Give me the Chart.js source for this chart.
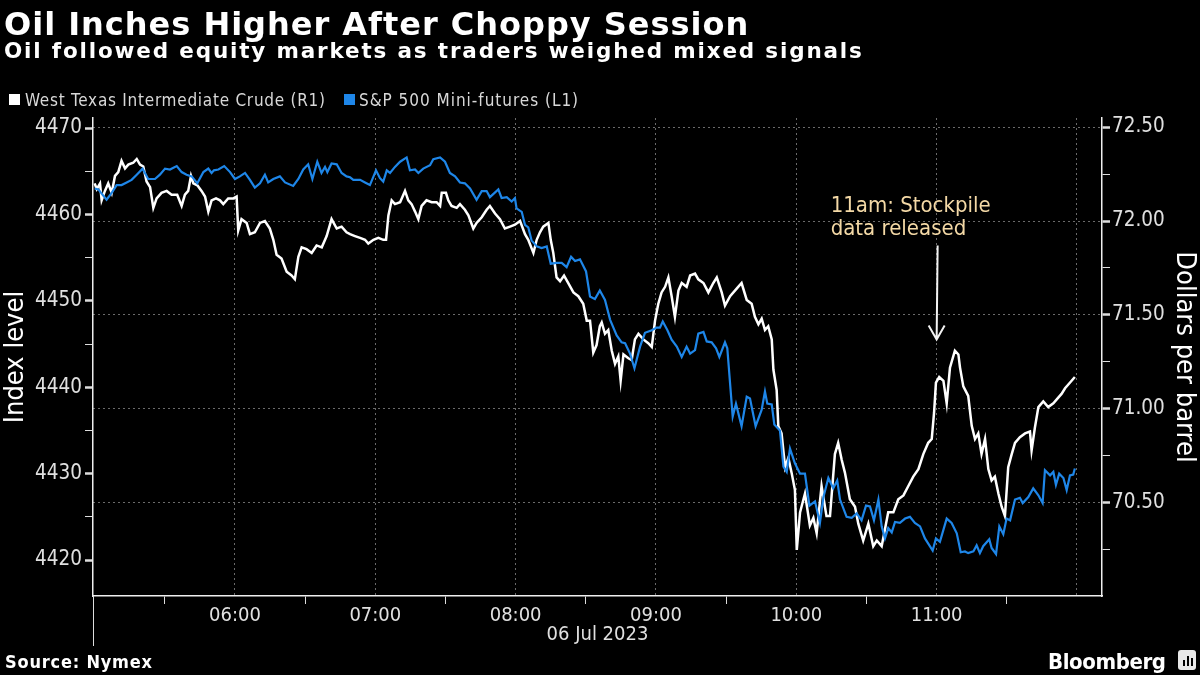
<!DOCTYPE html>
<html>
<head>
<meta charset="utf-8">
<script src="https://cdn.jsdelivr.net/npm/chart.js@4.4.1/dist/chart.umd.min.js"></script>
<style>
  html, body { margin: 0; background: #000; }
  canvas { display: block; }
</style>
</head>
<body>
<canvas id="oilChart" width="1200" height="675"></canvas>
<script>
// minutes after midnight, 06 Jul 2023 (New York time)
const wtiTimes = [300,300.9,302.3,303,304.4,305.8,307.3,308.7,310.1,311.5,313,314.4,316.5,318,319.4,320.8,322.2,323.7,325.1,326.5,
  328.6,330.8,332.9,335.3,337.2,338.6,340,341.2,342.2,343.9,345.7,347.2,348.6,350,351.9,353.6,355,357.1,359.3,360.7,
  361.4,362.8,365,366.4,368.5,370.7,372.8,374.9,376.4,377.8,379.9,382.1,384.2,385.6,387.1,388.5,390.6,392.8,394.9,397.1,
  399.2,401.3,403.5,405.6,407.7,
  409.2,411.3,413.5,415.6,417,419.2,421.3,423.4,424.6,425.6,427,428.4,430.6,432.7,434.1,435.5,437,438.4,439.8,441.9,
  444.1,446.2,447.7,448.4,450.2,451.2,452.6,454.8,456.2,458.3,459.8,461.9,463.3,465.5,467.6,469,471.2,473.3,475.4,477.6,
  479.7,481.9,484,485.4,487.6,489,490.4,491.8,494,495,496.1,497.5,499,500.7,502.5,504.7,506.8,508.9,510.4,511.8,
  513.2,514.6,516,
  516.8,518.2,519.6,521.1,522.5,523.9,524.9,526.1,528.2,529.6,531,532.5,534.6,536.7,538.2,539.6,541,542.4,543.9,545.3,
  546.7,548.1,549.6,551,553.1,554.6,556.7,558.1,560.3,562.4,564.5,566,568.1,569.5,571.7,574.5,576.6,578.8,580.9,582.3,
  583.8,585.2,586.6,588,589.5,590.2,591.6,592.3,593.7,595.2,596.6,598,599.4,600.2,601.6,603.7,605.8,607.3,608.7,610.8,
  612.9,614.4,616.5,617.9,619.4,620.8,622.9,625.1,626.5,628.6,630.8,632.9,634.4,636.5,637.9,639.3,641.5,643.6,645.8,647.9,
  650,652.2,654.3,656.4,657.9,658.9,659.7,661.1,662.9,664.3,665.7,667.8,669.3,670,671.4,673.5,675,676.4,677.8,679.2,
  680.7,682.1,683.5,684.9,686.4,687.8,689.2,690.6,692.1,693.5,695.6,697.8,699.9,700.6,702,703.5,705.6,707.7,709.9,712,
  713.4,714.9,716.3,717.7,719.1];
const wtiPrices = [72.20,72.17,72.20,72.11,72.16,72.20,72.15,72.24,72.26,72.32,72.28,72.30,72.31,72.33,72.30,72.29,72.21,72.18,72.07,72.12,
  72.15,72.16,72.14,72.14,72.08,72.14,72.16,72.24,72.20,72.19,72.16,72.13,72.05,72.11,72.12,72.11,72.09,72.12,72.12,72.13,
  71.95,72.01,71.99,71.93,71.94,71.99,72.00,71.96,71.90,71.82,71.80,71.73,71.71,71.69,71.81,71.86,71.85,71.83,71.87,71.86,
  71.92,72.01,71.96,71.97,71.94,
  71.93,71.92,71.91,71.90,71.88,71.90,71.91,71.90,71.90,72.03,72.11,72.09,72.10,72.16,72.11,72.09,72.05,72.01,72.08,72.11,
  72.10,72.10,72.08,72.15,72.15,72.11,72.08,72.07,72.09,72.06,72.03,71.96,71.99,72.02,72.06,72.08,72.04,72.01,71.96,71.97,
  71.98,72.00,71.93,71.90,71.83,71.90,71.94,71.97,71.99,71.90,71.83,71.70,71.68,71.71,71.67,71.62,71.60,71.56,71.47,71.47,
  71.30,71.34,71.44,
  71.46,71.40,71.42,71.31,71.24,71.28,71.15,71.29,71.27,71.26,71.37,71.40,71.37,71.35,71.33,71.47,71.56,71.62,71.65,71.70,
  71.60,71.49,71.63,71.67,71.65,71.71,71.72,71.69,71.67,71.62,71.67,71.70,71.62,71.55,71.60,71.64,71.67,71.58,71.56,71.49,
  71.45,71.48,71.42,71.44,71.37,71.21,71.10,70.91,70.87,70.69,70.74,70.66,70.57,70.25,70.45,70.55,70.38,70.42,70.34,70.59,
  70.43,70.43,70.76,70.82,70.73,70.66,70.52,70.48,70.39,70.30,70.39,70.27,70.30,70.27,70.36,70.45,70.45,70.52,70.54,70.59,
  70.64,70.68,70.76,70.82,70.84,70.98,71.14,71.17,71.15,71.03,71.22,71.31,71.29,71.22,71.12,71.07,70.91,70.84,70.87,70.76,
  70.84,70.68,70.62,70.64,70.55,70.48,70.43,70.69,70.76,70.82,70.85,70.87,70.88,70.78,70.90,71.01,71.04,71.01,71.03,71.06,
  71.08,71.11,71.13,71.15,71.17];

const spxTimes = [300,301.6,303,305.1,307.3,309.4,311.5,313.7,315.8,318,320.5,322.9,325.8,327.9,330.1,332.2,335.1,337.2,339.3,341.5,
  343.9,346.5,348.6,350,351,352.9,355.4,357.9,360,362.1,364.3,366.4,368.5,370.7,372.8,374.2,376.4,379.2,381.4,384.9,
  387.1,389.2,391.3,393.1,395.2,397,398.5,399.5,401.3,403.5,405.6,407.7,
  409.2,410.6,413.5,415.6,417.7,420.3,422,423.4,424.9,426.3,428.4,430.6,433.4,434.8,437,438.4,440.5,443.4,444.8,447.7,
  449.8,451.9,454.1,456.2,458.3,460.5,463.3,465.5,467.6,469,472.6,474,476.2,478.3,479.7,480.4,482.6,484,485.4,486.8,
  489,491.1,493.3,495,497.5,499.7,501.8,503.7,505.4,507.5,510.1,511.8,513.9,516,
  518.2,520.4,523.2,525.3,526.8,528.9,530.8,533.2,535.3,538.2,540.3,541.7,542.9,544.9,546.7,548.9,551,553.1,554.6,556.7,
  558.1,560.3,561.7,563.8,565.7,567.1,569.5,570.5,572.8,574.2,576.6,578.8,580.2,582.6,585.2,586.6,587.6,589.5,590.6,593,
  594.5,595.9,597.3,599.4,601.6,603.7,605.6,608,610.1,
  611.6,613.7,615.8,617.5,618.7,621.5,623.7,625.8,627.9,629.8,631.5,633.2,635.1,636.5,637.9,639.3,640.8,642.2,644.3,646.5,
  648.6,650.7,652.9,655,658.3,659.7,661.4,664.3,666.4,668.6,670.3,672.1,673.5,675.7,677.1,678.5,679.9,682.5,683.5,685.4,
  686.8,688.5,689.9,691.4,693.5,695.6,696.8,699.2,701.3,703.5,705.3,706.3,708.5,709.9,711,712.4,714.2,715.6,717,718.4,
  719.1];
const spxLevels = [4463.0,4462.9,4462.4,4461.7,4462.5,4463.4,4463.4,4463.7,4464.0,4464.6,4465.3,4464.1,4464.1,4464.6,4465.3,4465.2,4465.6,4464.9,4464.6,4464.4,
  4463.6,4464.9,4465.3,4464.8,4465.1,4465.2,4465.6,4464.9,4464.1,4464.4,4464.8,4464.0,4463.1,4463.6,4464.6,4463.7,4464.1,4464.4,4463.7,4463.3,
  4464.1,4465.2,4465.8,4464.1,4466.1,4464.8,4465.5,4464.9,4465.9,4465.8,4464.8,4464.4,
  4464.3,4464.0,4464.0,4463.7,4463.4,4465.1,4464.2,4463.8,4465.1,4464.8,4465.5,4466.1,4466.6,4465.1,4465.2,4464.8,4465.3,4465.7,4466.4,4466.6,
  4466.1,4464.8,4464.4,4463.7,4463.6,4463.0,4461.7,4462.7,4462.7,4462.0,4462.9,4461.9,4462.0,4461.5,4461.9,4460.7,4460.3,4458.8,4458.5,4457.0,
  4456.3,4456.1,4456.3,4454.3,4454.4,4454.4,4453.9,4455.1,4454.6,4454.8,4453.4,4450.5,4450.2,4451.2,
  4450.1,4447.8,4446.0,4445.2,4445.1,4443.9,4442.2,4444.7,4446.3,4446.6,4446.9,4446.9,4447.6,4446.6,4445.5,4444.7,4443.5,4444.7,4443.9,4444.3,
  4446.2,4446.4,4445.3,4445.2,4444.5,4443.5,4445.2,4444.5,4436.6,4438.1,4435.5,4438.9,4438.7,4435.5,4437.4,4439.5,4438.1,4438.0,4435.7,4435.0,
  4430.8,4430.2,4432.9,4431.2,4430.0,4430.0,4426.3,4426.8,4424.3,
  4427.3,4429.5,4428.3,4429.2,4427.0,4425.0,4424.9,4425.4,4424.6,4426.3,4426.2,4424.6,4427.0,4423.9,4422.5,4423.7,4423.2,4424.4,4424.3,4424.8,
  4425.0,4424.3,4423.9,4422.5,4421.1,4422.5,4422.1,4424.8,4424.3,4423.1,4420.9,4421.0,4420.8,4421.0,4421.7,4420.8,4421.6,4422.4,4421.4,4420.7,
  4423.9,4423.0,4424.8,4424.6,4427.0,4427.2,4426.6,4427.3,4428.3,4427.5,4426.6,4430.4,4429.8,4430.2,4428.7,4430.0,4429.5,4428.1,4429.8,4429.9,
  4430.6];

// axis ticks
const xTickValues = [330,360,390,420,450,480,510,540,570,600,630,660,690,720];
const hourValues  = [360,420,480,540,600,660,720];
const hourLabels  = ['06:00','07:00','08:00','09:00','10:00','11:00',''];
const leftTickValues = [4420,4425,4430,4435,4440,4445,4450,4455,4460,4465,4470];
const leftLabels     = [4420,4430,4440,4450,4460,4470];
const rightTickValues = [70.25,70.5,70.75,71,71.25,71.5,71.75,72,72.25,72.5];
const rightMajor      = [70.5,71,71.5,72,72.5];
const rightLabels     = ['70.50','71.00','71.50','72.00','72.50'];

const COND = '"DejaVu Sans Condensed", "Liberation Sans", sans-serif';
const WHITE = '#ffffff';
const BLUE = '#1e86e8';
const TICK_TXT = '#e0e0e0';
const GRID = '#6a6a6a';

function pairs(xs, ys) {
  const n = Math.min(xs.length, ys.length);
  const out = [];
  for (let i = 0; i < n; i++) out.push({x: xs[i], y: ys[i]});
  return out;
}

// draw text stretched with letter spacing to a given width
function fitText(ctx, text, x, y, width) {
  ctx.letterSpacing = '0px';
  const w = ctx.measureText(text).width;
  const sp = (width - w) / Math.max(1, text.length - 1);
  ctx.letterSpacing = sp.toFixed(2) + 'px';
  ctx.fillText(text, x, y);
  ctx.letterSpacing = '0px';
}

const decor = {
  id: 'decor',
  beforeDraw(chart) {
    const c = chart.ctx;
    c.save();
    c.fillStyle = '#000';
    c.fillRect(0, 0, chart.width, chart.height);
    c.restore();
  },
  afterDraw(chart) {
    const c = chart.ctx;
    const xs = chart.scales.x, yr = chart.scales.y1, area = chart.chartArea;
    c.save();
    c.textBaseline = 'alphabetic';
    c.textAlign = 'left';

    c.fillStyle = WHITE;
    c.font = 'bold 32px "DejaVu Sans"';
    fitText(c, 'Oil Inches Higher After Choppy Session', 4, 35, 744);
    c.font = 'bold 21.5px "DejaVu Sans"';
    fitText(c, 'Oil followed equity markets as traders weighed mixed signals', 4, 58, 858);

    // legend
    c.font = '17px ' + COND;
    c.fillStyle = WHITE;
    c.fillRect(9, 94, 11, 11);
    c.fillStyle = '#d8d8d8';
    fitText(c, 'West Texas Intermediate Crude (R1)', 25, 106, 300);
    c.fillStyle = BLUE;
    c.fillRect(344, 94, 11, 11);
    c.fillStyle = '#d8d8d8';
    fitText(c, 'S&P 500 Mini-futures (L1)', 359, 106, 219);

    // date separator below the x axis
    c.strokeStyle = '#dddddd';
    c.lineWidth = 1;
    c.beginPath();
    c.moveTo(area.left + 0.5, area.bottom);
    c.lineTo(area.left + 0.5, 646);
    c.stroke();

    // annotation
    const ax = xs.getPixelForValue(660);
    const yTop = yr.getPixelForValue(71.87);
    const yBot = yr.getPixelForValue(71.37);
    c.strokeStyle = '#f2f2f2';
    c.lineWidth = 2;
    c.beginPath();
    c.moveTo(ax + 1, yTop);
    c.lineTo(ax, yBot);
    c.moveTo(ax - 8, yBot - 14);
    c.lineTo(ax, yBot);
    c.lineTo(ax + 8, yBot - 14);
    c.stroke();
    c.fillStyle = '#f4d9a6';
    c.font = '22px ' + COND;
    c.fillText('11am: Stockpile', ax - 106, yr.getPixelForValue(72.05));
    c.fillText('data released', ax - 106, yr.getPixelForValue(71.925));

    // footer
    c.fillStyle = WHITE;
    c.font = 'bold 18px ' + COND;
    fitText(c, 'Source: Nymex', 5, 668, 147);
    c.font = 'bold 22px ' + COND;
    fitText(c, 'Bloomberg', 1048, 669, 118);
    // small logo box
    c.fillStyle = '#e8e8e8';
    c.beginPath();
    c.roundRect(1178, 650, 18, 20, 3);
    c.fill();
    c.fillStyle = '#000';
    c.fillRect(1183, 660, 2, 6);
    c.fillRect(1187, 656, 2, 10);
    c.fillRect(1191, 658, 2, 8);
    c.restore();
  }
};

const ctx = document.getElementById('oilChart').getContext('2d');
const oilChart = new Chart(ctx, {
  type: 'line',
  data: {
    datasets: [
      {
        label: 'West Texas Intermediate Crude (R1)',
        data: pairs(wtiTimes, wtiPrices),
        yAxisID: 'y1',
        borderColor: WHITE,
        borderWidth: 2.5,
        pointRadius: 0,
        tension: 0,
        order: 1
      },
      {
        label: 'S&P 500 Mini-futures (L1)',
        data: pairs(spxTimes, spxLevels),
        yAxisID: 'y',
        borderColor: BLUE,
        borderWidth: 2.2,
        pointRadius: 0,
        tension: 0,
        order: 0
      }
    ]
  },
  options: {
    responsive: false,
    animation: false,
    devicePixelRatio: 1,
    layout: { padding: { top: 118, left: 0, right: 0, bottom: 0 } },
    plugins: { legend: { display: false }, tooltip: { enabled: false } },
    scales: {
      x: {
        type: 'linear',
        position: 'bottom',
        min: 299.3,
        max: 730.7,
        afterBuildTicks: (s) => { s.ticks = xTickValues.map(v => ({ value: v })); },
        afterFit: (s) => { s.height = 79; },
        ticks: {
          color: TICK_TXT,
          font: { family: COND, size: 20 },
          padding: 0,
          maxRotation: 0,
          autoSkip: false,
          callback: (v) => { const i = hourValues.indexOf(v); return i >= 0 ? hourLabels[i] : ''; }
        },
        grid: {
          color: (c) => hourValues.includes(c.tick && c.tick.value) ? GRID : 'transparent',
          tickColor: (c) => hourValues.includes(c.tick && c.tick.value) ? 'transparent' : '#dddddd',
          tickLength: 8,
          lineWidth: 1
        },
        border: { display: true, color: '#eeeeee', width: 1.5, dash: [2, 3] },
        title: {
          display: true,
          text: '06 Jul 2023',
          color: TICK_TXT,
          font: { family: COND, size: 20 },
          padding: { top: 0, bottom: 28 }
        }
      },
      y: {
        position: 'left',
        min: 4415.84,
        max: 4471.16,
        afterBuildTicks: (s) => { s.ticks = leftTickValues.map(v => ({ value: v })); },
        afterFit: (s) => { s.width = 93; },
        ticks: {
          color: TICK_TXT,
          font: { family: COND, size: 20.5 },
          padding: 3,
          callback: (v) => leftLabels.includes(v) ? String(v) : ''
        },
        grid: {
          drawOnChartArea: false,
          tickLength: 8,
          tickColor: '#dddddd',
          tickWidth: (c) => leftLabels.includes(c.tick && c.tick.value) ? 2.5 : 1
        },
        border: { display: true, color: '#eeeeee', width: 1.5 },
        title: {
          display: true,
          text: 'Index level',
          color: WHITE,
          font: { family: COND, size: 27 },
          padding: 0
        }
      },
      y1: {
        position: 'right',
        min: 70.005,
        max: 72.548,
        afterBuildTicks: (s) => { s.ticks = rightTickValues.map(v => ({ value: v })); },
        afterFit: (s) => { s.width = 98; },
        ticks: {
          color: TICK_TXT,
          font: { family: COND, size: 20.5 },
          padding: 2,
          callback: (v) => { const i = rightMajor.indexOf(v); return i >= 0 ? rightLabels[i] : ''; }
        },
        grid: {
          drawOnChartArea: true,
          color: (c) => rightMajor.includes(c.tick && c.tick.value) ? GRID : 'transparent',
          tickColor: '#dddddd',
          tickLength: 8,
          tickWidth: (c) => rightMajor.includes(c.tick && c.tick.value) ? 2.5 : 1
        },
        border: { display: true, color: '#eeeeee', width: 1.5, dash: [2, 3] },
        title: {
          display: true,
          text: 'Dollars per barrel',
          color: WHITE,
          font: { family: COND, size: 27 },
          padding: 0
        }
      }
    }
  },
  plugins: [decor]
});
</script>
</body>
</html>
